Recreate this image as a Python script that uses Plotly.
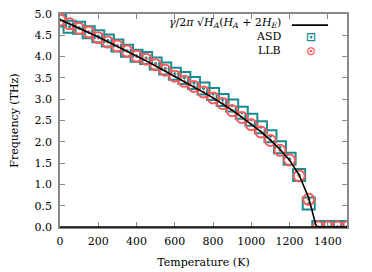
import plotly.graph_objects as go

# Temperatures (K)
temps = [0, 50, 100, 150, 200, 250, 300, 350, 400, 450, 500, 550, 600, 650, 700,
         750, 800, 850, 900, 950, 1000, 1050, 1100, 1150, 1200, 1250, 1300,
         1350, 1400, 1450, 1500]

asd = [4.85, 4.70, 4.68, 4.57, 4.48, 4.38, 4.26, 4.14, 4.02, 3.97, 3.84, 3.72,
       3.60, 3.50, 3.38, 3.25, 3.12, 2.98, 2.85, 2.68, 2.52, 2.34, 2.13, 1.87,
       1.60, 1.22, 0.55, 0.0, 0.0, 0.0, 0.0]

llb = [4.86, 4.77, 4.66, 4.58, 4.44, 4.34, 4.25, 4.13, 4.01, 3.94, 3.81, 3.68,
       3.54, 3.42, 3.30, 3.17, 3.03, 2.90, 2.73, 2.57, 2.40, 2.23, 2.03, 1.80,
       1.57, 1.20, 0.65, 0.0, 0.0, 0.0, 0.0]

line_t = [0, 50, 100, 150, 200, 250, 300, 350, 400, 450, 500, 550, 600, 650, 700,
          750, 800, 850, 900, 950, 1000, 1050, 1100, 1150, 1200, 1250, 1300,
          1340, 1400, 1450, 1500]
line_f = [4.87, 4.77, 4.67, 4.57, 4.46, 4.35, 4.24, 4.13, 4.01, 3.90, 3.78, 3.66,
          3.54, 3.42, 3.29, 3.16, 3.03, 2.89, 2.74, 2.58, 2.42, 2.24, 2.04, 1.82,
          1.57, 1.22, 0.68, 0.0, 0.0, 0.0, 0.0]

x_ticks = [0, 200, 400, 600, 800, 1000, 1200, 1400]
y_ticks = [0.0, 0.5, 1.0, 1.5, 2.0, 2.5, 3.0, 3.5, 4.0, 4.5, 5.0]

FONT = "DejaVu Serif"
FS = 11
TEAL = "#158c91"
RED = "#ff5a5a"

fig = go.Figure()
fig.add_trace(go.Scatter(x=temps, y=asd, mode="markers", name="ASD",
                         marker=dict(symbol="square-open-dot", size=12, color=TEAL,
                                     line=dict(width=2, color=TEAL))))
fig.add_trace(go.Scatter(x=temps, y=llb, mode="markers", name="LLB",
                         marker=dict(symbol="circle-open-dot", size=11, color=RED,
                                     line=dict(width=2, color=RED))))
fig.add_trace(go.Scatter(x=line_t, y=line_f, mode="lines", name="theory",
                         line=dict(color="black", width=1.6)))

axis_common = dict(showgrid=False, zeroline=False, ticks="inside", ticklen=5,
                   tickcolor="#888888", showline=True, linecolor="#888888",
                   linewidth=1.5, mirror="ticks", automargin=False,
                   ticklabeloverflow="allow",
                   tickfont=dict(family=FONT, size=FS, color="black"))

fig.update_xaxes(range=[0, 1500], tickvals=x_ticks, ticklabelstandoff=3,
                 title=dict(text="Temperature (K)", font=dict(family=FONT, size=FS, color="black"),
                            standoff=11),
                 **axis_common)
fig.update_yaxes(range=[0, 5.0], tickvals=y_ticks, tickformat=".1f", ticklabelstandoff=4,
                 title=dict(text="Frequency (THz)", font=dict(family=FONT, size=FS, color="black"),
                            standoff=17),
                 **axis_common)

# bottom axis drawn in black
fig.add_shape(type="line", xref="paper", yref="paper", x0=0, x1=1, y0=0, y1=0,
              line=dict(color="black", width=1.5))

fig.update_layout(
    width=364, height=264,
    margin=dict(l=52, r=25, t=6, b=45),
    plot_bgcolor="white", paper_bgcolor="white",
    font=dict(family=FONT, size=FS, color="black"),
    showlegend=False,
)

# legend (text right-aligned, key on the right)
labels = ["<i>γ</i>/2<i>π</i> √<i>H<sub>A</sub></i>(<i>H<sub>A</sub></i> + 2<i>H<sub>E</sub></i>)",
          "ASD", "LLB"]
ys = [0.958, 0.894, 0.827]
for txt, yy in zip(labels, ys):
    fig.add_annotation(text=txt, xref="paper", yref="paper", x=0.777, y=yy,
                       xanchor="right", yanchor="middle", showarrow=False,
                       font=dict(family=FONT, size=FS, color="black"))

fig.add_shape(type="line", xref="paper", yref="paper", x0=0.808, x1=0.934,
              y0=0.948, y1=0.948, line=dict(color="black", width=1.6))
fig.add_annotation(text="⊡", xref="paper", yref="paper", x=0.875, y=0.894,
                   xanchor="center", yanchor="middle", showarrow=False,
                   font=dict(family="DejaVu Sans", size=12, color=TEAL, weight="bold"))
fig.add_annotation(text="⊙", xref="paper", yref="paper", x=0.875, y=0.827,
                   xanchor="center", yanchor="middle", showarrow=False,
                   font=dict(family="DejaVu Sans", size=12, color=RED, weight="bold"))

fig.write_html("out.html")
